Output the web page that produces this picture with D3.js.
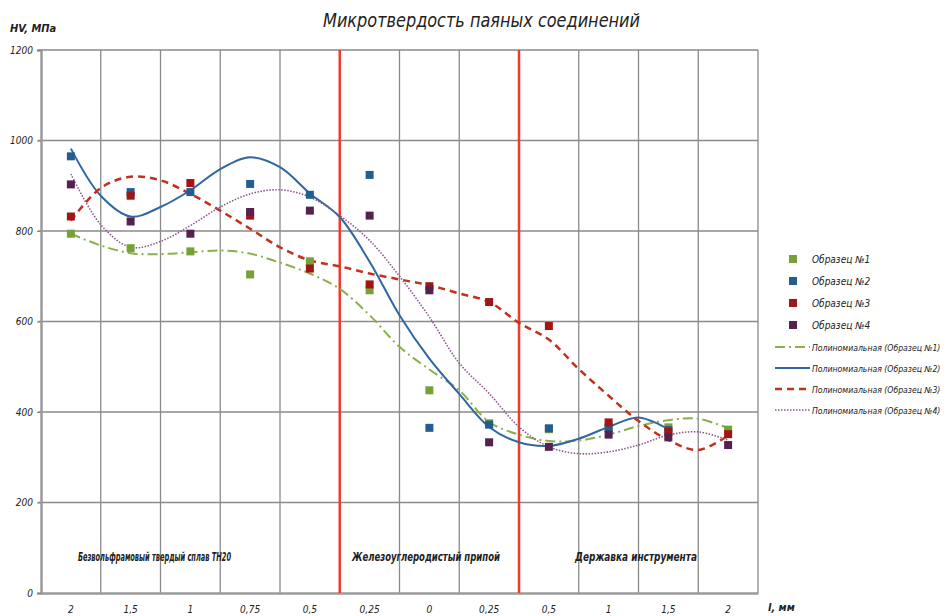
<!DOCTYPE html>
<html lang="ru">
<head>
<meta charset="UTF-8">
<title>Микротвердость паяных соединений</title>
<script src="https://cdn.jsdelivr.net/npm/d3@7/dist/d3.min.js"></script>
<style>
    body { margin: 0; background: #fff; }
    text { font-family: "DejaVu Sans Condensed", "Liberation Sans Narrow", sans-serif; font-style: italic; fill: #222; }
</style>
</head>
<body>
<svg id="chart" width="950" height="616"></svg>
<script>
    // categories (distance, mm)
    var xLabels = ["2", "1,5", "1", "0,75", "0,5", "0,25", "0", "0,25", "0,5", "1", "1,5", "2"];
    var yTicks = [0, 200, 400, 600, 800, 1000, 1200];

    // measured points, HV
    var sample1 = [794, 762, 755, 704, 733, 669, 448, 375, 362, 368, 366, 361];
    var sample2 = [965, 886, 886, 904, 880, 924, 365, 372, 364, 364, 360];
    var sample3 = [832, 878, 906, 834, 717, 682, 678, 643, 590, 377, 356, 351];
    var sample4 = [903, 821, 794, 842, 845, 834, 669, 333, 323, 350, 344, 327];

    // trend curves, every half category
    var trend1 = [794, 768, 751, 749, 753, 757, 750, 730, 706, 672, 614, 544, 494, 448, 378, 350, 336, 337, 350, 369, 382, 385, 364];
    var trend2 = [982, 878, 832, 853, 890, 937, 963, 941, 883, 831, 732, 614, 518, 440, 367, 333, 325, 341, 367, 388, 362];
    var trend3 = [823, 895, 920, 912, 882, 845, 805, 764, 735, 722, 706, 693, 680, 662, 643, 597, 560, 495, 436, 380, 338, 316, 348];
    var trend4 = [926, 814, 764, 777, 812, 853, 882, 891, 875, 834, 779, 700, 610, 508, 441, 367, 323, 308, 312, 327, 349, 356, 338];

    var seriesNames = ["Образец №1", "Образец №2", "Образец №3", "Образец №4"];
    var trendNames = ["Полиномиальная (Образец №1)", "Полиномиальная (Образец №2)", "Полиномиальная (Образец №3)", "Полиномиальная (Образец №4)"];
    var zones = ["Безвольфрамовый твердый сплав ТН20", "Железоуглеродистый припой", "Державка инструмента"];
    var zoneEdges = [5, 8];

    var pointColors = ["#77a038", "#235d92", "#a01616", "#55224f"];
    var lineColors = ["#8ab04a", "#30679f", "#c0321f", "#8a5a8c"];
    var dashes = ["10,4,2,4", null, "7,5", "1.5,1.5"];
    var widths = [2, 2, 2.5, 1.6];

    var svg = d3.select("#chart");
    var plotL = 41, plotR = 758, plotT = 50, plotB = 593;

    var x = d3.scaleBand().domain(d3.range(xLabels.length)).range([plotL, plotR]);
    var xPos = d3.scaleLinear().domain([-0.5, xLabels.length - 0.5]).range([plotL, plotR]);
    var y = d3.scaleLinear().domain([0, 1200]).range([plotB, plotT]);

    // grid
    svg.append("g").selectAll("line").data(yTicks.slice(1)).enter().append("line")
        .attr("x1", plotL - 3).attr("x2", plotR)
        .attr("y1", function (d) { return y(d); }).attr("y2", function (d) { return y(d); })
        .attr("stroke", "#8a8a8a").attr("stroke-width", 1.3);
    svg.append("g").selectAll("line").data(d3.range(1, xLabels.length + 1)).enter().append("line")
        .attr("x1", function (d) { return x(d - 1) + x.bandwidth(); })
        .attr("x2", function (d) { return x(d - 1) + x.bandwidth(); })
        .attr("y1", plotT).attr("y2", plotB)
        .attr("stroke", "#8a8a8a").attr("stroke-width", 1.3);

    // axes
    var yAxis = d3.axisLeft(y).tickValues(yTicks).tickSize(4).tickFormat(d3.format("d"));
    var gy = svg.append("g").attr("transform", "translate(" + plotL + ",0)").call(yAxis);
    gy.select(".domain").attr("stroke", "#9a9a9a").attr("stroke-width", 2.5);
    gy.selectAll(".tick line").attr("stroke", "#888");
    gy.selectAll(".tick text").attr("x", -8).style("font-size", "10px").style("font-family", null);

    var xAxis = d3.axisBottom(x).tickSize(0).tickFormat(function (d) { return xLabels[d]; });
    var gx = svg.append("g").attr("transform", "translate(0," + plotB + ")").call(xAxis);
    gx.select(".domain").attr("stroke", "#9a9a9a").attr("stroke-width", 2.5);
    gx.selectAll(".tick text").attr("y", 13).style("font-size", "10px").style("font-family", null);

    // zone borders
    svg.append("g").selectAll("line").data(zoneEdges).enter().append("line")
        .attr("x1", function (d) { return x(d); }).attr("x2", function (d) { return x(d); })
        .attr("y1", plotT).attr("y2", plotB)
        .attr("stroke", "#f03a2e").attr("stroke-width", 2.5);

    // zone captions
    var zoneX = [78, 352, 575];
    var zoneW = [153, 148, 122];
    svg.append("g").selectAll("text").data(zones).enter().append("text")
        .attr("x", function (d, i) { return zoneX[i]; }).attr("y", 561)
        .attr("textLength", function (d, i) { return zoneW[i]; })
        .attr("lengthAdjust", "spacingAndGlyphs")
        .style("font-size", "12px").style("font-weight", "bold")
        .text(function (d) { return d; });

    // trend lines
    var trends = [trend1, trend2, trend3, trend4];
    var trendLine = d3.line()
        .x(function (d, i) { return xPos(i / 2); })
        .y(function (d) { return y(d); })
        .curve(d3.curveCatmullRom);
    trends.forEach(function (t, k) {
        svg.append("path").datum(t)
            .attr("d", trendLine)
            .attr("fill", "none")
            .attr("stroke", lineColors[k])
            .attr("stroke-width", widths[k])
            .attr("stroke-dasharray", dashes[k]);
    });

    // points
    var samples = [sample1, sample2, sample3, sample4];
    samples.forEach(function (s, k) {
        svg.append("g").selectAll("rect").data(s).enter().append("rect")
            .attr("x", function (d, i) { return x(i) + x.bandwidth() / 2 - 4; })
            .attr("y", function (d) { return y(d) - 4; })
            .attr("width", 8).attr("height", 8)
            .attr("fill", pointColors[k]);
    });

    // titles
    svg.append("text").attr("x", 323).attr("y", 27)
        .attr("textLength", 317).attr("lengthAdjust", "spacingAndGlyphs")
        .style("font-size", "19px")
        .text("Микротвердость паяных соединений");
    svg.append("text").attr("x", 10).attr("y", 32)
        .style("font-size", "11px").style("font-weight", "bold")
        .text("HV, МПа");
    svg.append("text").attr("x", 768).attr("y", 611)
        .style("font-size", "11px").style("font-weight", "bold")
        .text("l, мм");

    // legend
    var legY = [259, 281, 303, 325];
    var leg = svg.append("g");
    seriesNames.forEach(function (n, k) {
        leg.append("rect").attr("x", 789).attr("y", legY[k] - 4).attr("width", 8).attr("height", 8)
            .attr("fill", pointColors[k]);
        leg.append("text").attr("x", 812).attr("y", legY[k] + 4).style("font-size", "10px").text(n);
    });
    var legLineY = [347, 368, 389, 410];
    trendNames.forEach(function (n, k) {
        leg.append("line").attr("x1", 775).attr("x2", 810).attr("y1", legLineY[k]).attr("y2", legLineY[k])
            .attr("stroke", lineColors[k]).attr("stroke-width", widths[k])
            .attr("stroke-dasharray", dashes[k]);
        leg.append("text").attr("x", 812).attr("y", legLineY[k] + 4)
            .style("font-size", "8.6px").text(n);
    });
</script>
</body>
</html>
